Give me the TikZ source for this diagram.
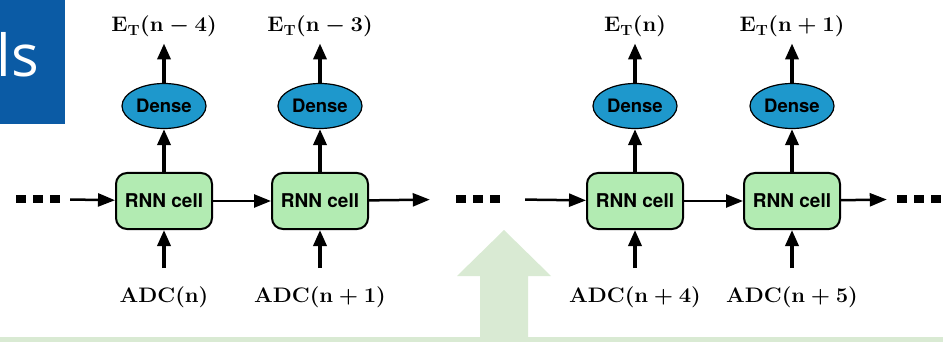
\RequirePackage{fix-cm}
\documentclass[tikz,border=0pt]{standalone}
\usepackage{fontspec}
\newfontfamily\helv{TeX Gyre Heros}
\newfontfamily\osans{Open Sans}
\usetikzlibrary{shapes.geometric,arrows.meta}
\definecolor{cellgreen}{RGB}{178,235,178}
\definecolor{denseblue}{RGB}{30,152,204}
\definecolor{slideblue}{RGB}{11,91,165}
\definecolor{palegreen}{RGB}{217,234,211}
\newcommand{\lbl}[1]{\scalebox{1.05}[1]{$\mathbf{#1}$}}
\begin{document}
\begin{tikzpicture}[x=1pt,y=-1pt,
  cell/.style={draw=black,line width=2pt,rounded corners=11pt,fill=cellgreen,
    minimum width=96pt,minimum height=56pt,inner sep=0pt,
    font=\helv\bfseries\fontsize{19}{21}\selectfont},
  dense/.style={ellipse,draw=black,line width=1.2pt,fill=denseblue,
    minimum width=84pt,minimum height=45pt,inner sep=0pt,
    font=\helv\bfseries\fontsize{18.5}{20}\selectfont},
  lab/.style={inner sep=0pt,anchor=base,font=\fontsize{21}{25}\selectfont\boldmath},
  varr/.style={-{Triangle[length=16pt,width=13pt]},line width=3.5pt},
  harr/.style={-{Triangle[length=17pt,width=13pt]},line width=2.5pt},
  dotsbox/.style={inner sep=0pt}]
\useasboundingbox (0,0) rectangle (943,342);
% slide decorations
\fill[slideblue] (0,0) rectangle (65,124);
\node[anchor=base east,inner sep=0pt,text=white,font=\osans\fontsize{58}{60}\selectfont] (title) at (39,77) {ls};
\fill[palegreen] (0,337) rectangle (943,342);
\fill[palegreen] (480,342) -- (480,276) -- (457,276) -- (504,230) -- (551,276) -- (528,276) -- (528,342) -- cycle;
% cells
\node[cell] (c1) at (164,201) {RNN cell};
\node[cell] (c2) at (320,201) {RNN cell};
\node[cell] (c3) at (635,201) {RNN cell};
\node[cell] (c4) at (792,201) {RNN cell};
% dense
\node[dense] (d1) at (164,106) {Dense};
\node[dense] (d2) at (320,106) {Dense};
\node[dense] (d3) at (635,106) {Dense};
\node[dense] (d4) at (792,106) {Dense};
% outputs
\node[lab] (e1) at (164,32) {\lbl{E_T(n-4)}};
\node[lab] (e2) at (320,32) {\lbl{E_T(n-3)}};
\node[lab] (e3) at (635,32) {\lbl{E_T(n)}};
\node[lab] (e4) at (792,32) {\lbl{E_T(n+1)}};
% inputs
\node[lab] (a1) at (164,302) {\lbl{ADC(n)}};
\node[lab] (a2) at (320,302) {\lbl{ADC(n+1)}};
\node[lab] (a3) at (635,302) {\lbl{ADC(n+4)}};
\node[lab] (a4) at (792,302) {\lbl{ADC(n+5)}};
% dots
\node[dotsbox] (dl) at (38,199) {\rule{10pt}{9pt}\hspace{7pt}\rule{10pt}{9pt}\hspace{7pt}\rule{10pt}{9pt}};
\node[dotsbox] (dm) at (478,199) {\rule{10pt}{9pt}\hspace{7pt}\rule{10pt}{9pt}\hspace{7pt}\rule{10pt}{9pt}};
\node[dotsbox] (dr) at (919,199) {\rule{10pt}{9pt}\hspace{7pt}\rule{10pt}{9pt}\hspace{7pt}\rule{10pt}{9pt}};
% vertical arrows
\foreach \i in {1,2,3,4}{
  \draw[varr,shorten >=6pt] (d\i) -- (e\i);
  \draw[varr] (c\i) -- (d\i);
  \draw[varr,shorten <=18pt] (a\i) -- (c\i);
}
% horizontal arrows
\draw[harr,shorten <=10pt] (dl) -- (c1);
\draw[harr] (c1) -- (c2);
\draw[harr,shorten >=26pt] (c2) -- (dm);
\draw[harr,shorten <=25pt] (dm) -- (c3);
\draw[harr] (c3) -- (c4);
\draw[harr,shorten >=10pt] (c4) -- (dr);
\end{tikzpicture}
\end{document}
